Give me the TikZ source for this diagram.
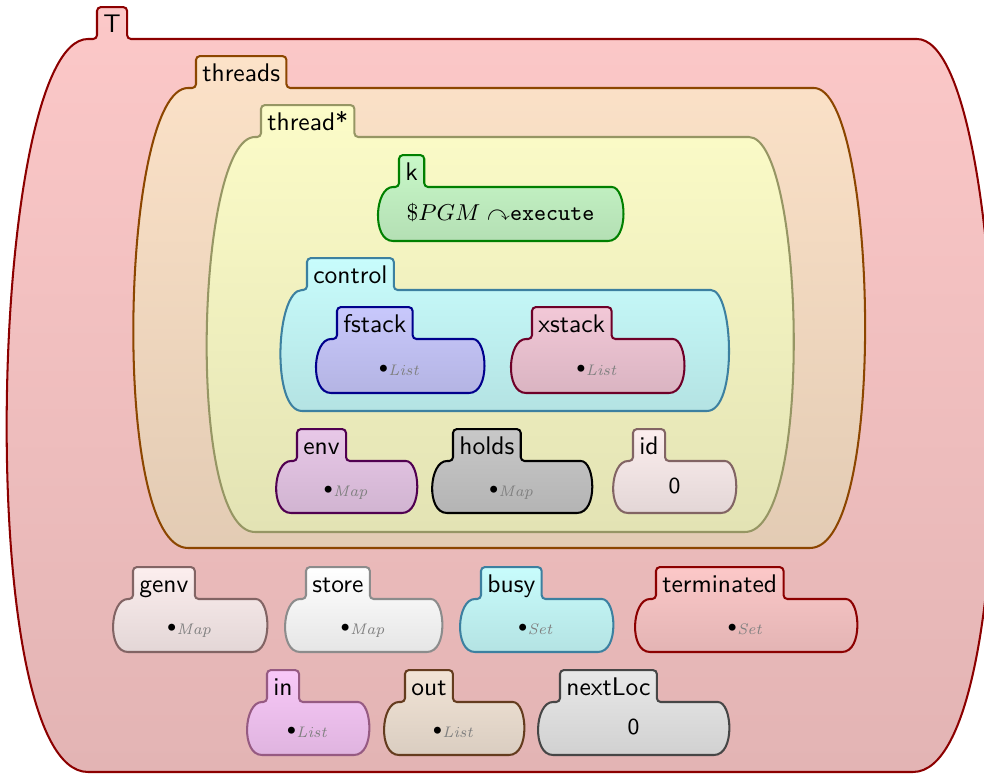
\documentclass[tikz,border=0pt]{standalone}
\usepackage{amssymb}
\pgfdeclarelayer{background}
\pgfsetlayers{background,main}

\definecolor{redline}{RGB}{140,0,0}
\definecolor{redfill}{RGB}{252,200,200}
\definecolor{orangeline}{RGB}{140,70,0}
\definecolor{orangefill}{RGB}{252,226,200}
\definecolor{yellowline}{RGB}{150,150,100}
\definecolor{yellowfill}{RGB}{252,252,200}
\definecolor{greenline}{RGB}{0,128,0}
\definecolor{greenfill}{RGB}{200,248,200}
\definecolor{cyanline}{RGB}{60,128,160}
\definecolor{cyanfill}{RGB}{200,252,252}
\definecolor{blueline}{RGB}{0,0,140}
\definecolor{bluefill}{RGB}{200,200,252}
\definecolor{pinkline}{RGB}{110,0,40}
\definecolor{pinkfill}{RGB}{242,200,215}
\definecolor{violetline}{RGB}{80,0,80}
\definecolor{violetfill}{RGB}{232,200,232}
\definecolor{grayfill}{RGB}{200,200,200}
\definecolor{roseline}{RGB}{130,100,100}
\definecolor{rosefill}{RGB}{252,238,238}
\definecolor{whiteline}{RGB}{140,140,140}
\definecolor{magentaline}{RGB}{150,90,130}
\definecolor{magentafill}{RGB}{248,200,248}
\definecolor{brownline}{RGB}{100,60,30}
\definecolor{brownfill}{RGB}{242,228,214}
\definecolor{silverline}{RGB}{70,70,70}
\definecolor{silverfill}{RGB}{232,232,232}

\tikzset{
  cell/.style 2 args={draw=#1,top color=#2,bottom color=#2!90!black,line width=0.8pt},
  redcell/.style={cell={redline}{redfill}},
  orangecell/.style={cell={orangeline}{orangefill}},
  yellowcell/.style={cell={yellowline}{yellowfill}},
  greencell/.style={cell={greenline}{greenfill}},
  cyancell/.style={cell={cyanline}{cyanfill}},
  bluecell/.style={cell={blueline}{bluefill}},
  pinkcell/.style={cell={pinkline}{pinkfill}},
  violetcell/.style={cell={violetline}{violetfill}},
  graycell/.style={cell={black}{grayfill}},
  rosecell/.style={cell={roseline}{rosefill}},
  whitecell/.style={cell={whiteline}{white}},
  magentacell/.style={cell={magentaline}{magentafill}},
  browncell/.style={cell={brownline}{brownfill}},
  silvercell/.style={cell={silverline}{silverfill}},
  celltab/.style={font=\sffamily,inner xsep=2.3pt,inner ysep=0pt,text height=9.8pt,text depth=2.3pt},
  cellbody/.style={inner sep=0pt,font=\small,anchor=base}
}

\newcommand\kdot[1]{${\scriptstyle\bullet}_{\textcolor{gray}{\mathit{#1}}}$}

% name, label, tab x, left, right, top, bottom, style, contents
\newcommand\kcell[9]{%
  \pgfmathsetmacro\kbulge{(0.1*(#7-#6)+10)/0.75}
  \node[celltab,anchor=south west] (#1-tab) at (#3,#6) {#2};
  \node[cellbody] (#1) at ({(#4+#5)/2},{(#6+#7)/2+6.5}) {#9};
  \begin{pgfonlayer}{background}
  \path[#8] (#1-tab.west) [rounded corners=1.5pt] -- (#1-tab.north west) -- (#1-tab.north east)
    -- (#1-tab.south east) -- (#5,#6) [sharp corners]
    .. controls ({#5+0.9*\kbulge},#6) and ({#5+1.05*\kbulge},#7) .. (#5,#7) -- (#4,#7)
    .. controls ({#4-1.05*\kbulge},#7) and ({#4-0.9*\kbulge},#6) .. (#4,#6)
    [rounded corners=1.5pt] -- (#1-tab.south west) -- cycle;
  \end{pgfonlayer}
}

\begin{document}
\begin{tikzpicture}[x=0.392pt,y=-0.392pt]
\useasboundingbox (0,0) rectangle (984,774);
\kcell{T}{T}{97}{88}{913}{39}{772}{redcell}{}
\kcell{threads}{threads}{196}{188}{810}{88}{548}{orangecell}{}
\kcell{thread}{thread*}{261}{255}{745}{137}{532}{yellowcell}{}
\kcell{k}{k}{399}{393}{608}{187}{241}{greencell}{$\$PGM\curvearrowright$\texttt{execute}}
\kcell{control}{control}{307}{302}{707}{290}{411}{cyancell}{}
\kcell{fstack}{fstack}{337}{331}{469}{339}{393}{bluecell}{\kdot{List}}
\kcell{xstack}{xstack}{532}{526}{669}{339}{393}{pinkcell}{\kdot{List}}
\kcell{env}{env}{297}{291}{402}{461}{513}{violetcell}{\kdot{Map}}
\kcell{holds}{holds}{453}{447}{577}{461}{513}{graycell}{\kdot{Map}}
\kcell{id}{id}{633}{628}{721}{461}{513}{rosecell}{\sffamily 0}
\kcell{genv}{genv}{133}{128}{252}{599}{652}{rosecell}{\kdot{Map}}
\kcell{store}{store}{306}{300}{427}{599}{652}{whitecell}{\kdot{Map}}
\kcell{busy}{busy}{481}{475}{598}{599}{652}{cyancell}{\kdot{Set}}
\kcell{terminated}{terminated}{656}{650}{842}{599}{652}{redcell}{\kdot{Set}}
\kcell{incell}{in}{267}{262}{354}{702}{755}{magentacell}{\kdot{List}}
\kcell{outcell}{out}{405}{399}{509}{702}{755}{browncell}{\kdot{List}}
\kcell{nextLoc}{nextLoc}{560}{553}{714}{702}{755}{silvercell}{\sffamily 0}
\end{tikzpicture}
\end{document}
